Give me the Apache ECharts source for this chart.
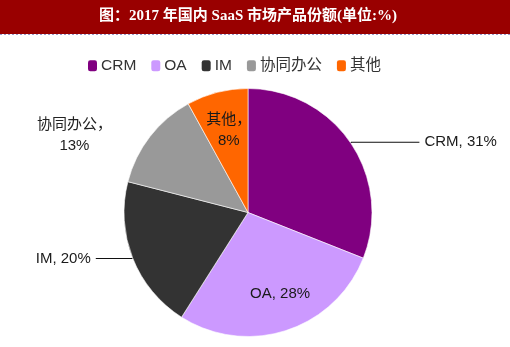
<!DOCTYPE html>
<html><head><meta charset="utf-8">
<script src="https://cdn.jsdelivr.net/npm/echarts@6/dist/echarts.min.js"></script>
<style>html,body{margin:0;padding:0;background:#fff}#c{width:510px;height:347px}</style>
</head><body><div id="c"></div>
<script>
const titleText = '图：2017 年国内 SaaS 市场产品份额(单位:%)';
const categories = ['CRM', 'OA', 'IM', '协同办公', '其他'];
const shares = [31, 28, 20, 13, 8];
const colors = ['#800080', '#CC99FF', '#333333', '#999999', '#FF6600'];

const latin = '"Liberation Sans", "Noto Sans CJK SC", sans-serif';
const labelCfg = {
  'CRM': { label: { position: 'outside', formatter: '{b}, {c}%' }, labelLine: { show: true, length: 1, length2: 68 } },
  'OA': { label: { position: 'inside', formatter: '{b}, {c}%', offset: [12, 20] }, labelLine: { show: false } },
  'IM': { label: { position: 'outside', formatter: '{b}, {c}%' }, labelLine: { show: true, length: 1, length2: 36 } },
  '协同办公': { label: { position: 'outside', formatter: '{a|{b}，}\n{a|{c}%}', rich: { a: { width: 78, align: 'center', lineHeight: 21, fontSize: 15, fontFamily: latin, color: '#222' } } }, labelLine: { show: false, length: 2, length2: 30 } },
  '其他': { label: { position: 'inside', formatter: '{b}，\n{c}%', lineHeight: 21, offset: [-3, -19] }, labelLine: { show: false } }
};

const data = categories.map((name, i) => Object.assign({ name, value: shares[i], itemStyle: { color: colors[i] } }, labelCfg[name]));

const chart = echarts.init(document.getElementById('c'));
chart.setOption({
  animation: false,
  backgroundColor: '#fff',
  graphic: [
    { type: 'rect', shape: { x: 0, y: 0, width: 510, height: 34 }, style: { fill: '#990000' }, z: 0 },
    { type: 'line', shape: { x1: 0, y1: 34.5, x2: 510, y2: 34.5 }, style: { stroke: '#9999CC', lineWidth: 1, lineDash: [2, 2] } },
    { type: 'text', x: 248, y: 16, style: { text: titleText, fill: '#fff', font: 'bold 15px "Liberation Serif", "Noto Sans CJK SC", serif', align: 'center', verticalAlign: 'middle' }, z: 5 }
  ],
  legend: {
    data: categories,
    top: 53,
    left: 83,
    icon: 'roundRect',
    itemWidth: 9,
    itemHeight: 11,
    itemGap: 15,
    itemStyle: { borderWidth: 0 },
    textStyle: { fontSize: 15.5, color: '#333', fontFamily: latin, padding: [0, 0, 0, -1] }
  },
  color: colors,
  series: [{
    type: 'pie',
    center: [248, 212.5],
    radius: 124,
    startAngle: 90,
    clockwise: true,
    avoidLabelOverlap: false,
    itemStyle: { borderColor: '#ffffff', borderWidth: 0.6 },
    label: { fontSize: 15, color: '#1a1a1a', fontFamily: latin },
    labelLine: { lineStyle: { color: '#111', width: 1.2 } },
    emphasis: { disabled: true },
    data: data
  }]
});
</script></body></html>
